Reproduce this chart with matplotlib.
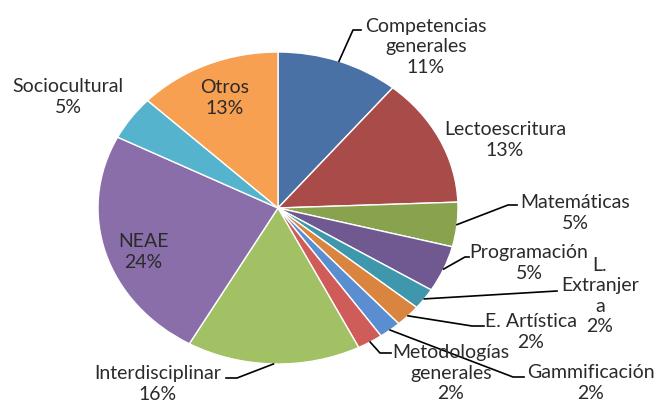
from matplotlib import pyplot as plt
import numpy as np

# slice data, clockwise from 12 o'clock
categories = ['Competencias\ngenerales', 'Lectoescritura', 'Matemáticas', 'Programación',
              'L.\nExtranjer\na', 'E. Artística', 'Gammificación', 'Metodologías\ngenerales',
              'Interdisciplinar', 'NEAE', 'Sociocultural', 'Otros']
values = [11.0, 13.4, 4.6, 4.8, 2.2, 2.3, 2.0, 2.3, 15.6, 24.3, 4.6, 12.9]

colors = ['#4A71A5', '#A84B49', '#88A24E', '#6F5990', '#3E97AC', '#DA853F',
          '#5B8ED0', '#D05C5A', '#A2C064', '#8A6EA9', '#56B3CD', '#F7A052']

# pie geometry in pixels (the chart is stretched, so the pie is an ellipse)
CX, CY, RX, RY = 278, 208, 180, 156
W, H = 659, 403

# label layout in pixels: text centre, leader elbow (None = no leader)
label_pos = [
    ((426, 47), [(353, 30), (361, 30)]),
    ((505, 140), None),
    ((575, 213), [(508, 205), (517, 205)]),
    ((529, 263), [(465, 257), (469, 257)]),
    ((600, 296), [(557, 291)]),
    ((531, 332), [(472, 326), (484, 326)]),
    ((591, 383), [(513, 377), (524, 377)]),
    ((451, 373), [(380, 353), (391, 353)]),
    ((158, 384), [(237, 378), (226, 378)]),
    ((143, 252), None),
    ((68, 97), None),
    ((225, 98), None),
]


def px(x, y):
    return (x - CX) / RX, (CY - y) / RY


plt.rcParams['font.family'] = ['Lato', 'DejaVu Sans']

fig = plt.figure(figsize=(W / 100, H / 100), dpi=100)
ax = fig.add_axes([0, 0, 1, 1])
ax.pie(values, colors=colors, startangle=90, counterclock=False, radius=1,
       wedgeprops=dict(edgecolor='white', linewidth=1.0))
ax.set_aspect('auto')
x0, y0 = px(0, H)
x1, y1 = px(W, 0)
ax.set_xlim(x0, x1)
ax.set_ylim(y0, y1)
ax.axis('off')

total = sum(values)
cum = np.cumsum([0] + values[:-1])
for name, v, c0, (tpos, leader) in zip(categories, values, cum, label_pos):
    pct = 100 * v / total
    tx, ty = px(*tpos)
    ax.text(tx, ty, f'{name}\n{pct:.0f}%', ha='center', va='center',
            fontsize=14, color='#2a2a2a', linespacing=1.25)
    if leader:
        ang = np.deg2rad(90 - 360 * (c0 + v / 2) / total)
        xs = [np.cos(ang)] + [px(*p)[0] for p in leader]
        ys = [np.sin(ang)] + [px(*p)[1] for p in leader]
        ax.plot(xs, ys, color='black', linewidth=1.2)

fig.savefig('out.png', dpi=100)
